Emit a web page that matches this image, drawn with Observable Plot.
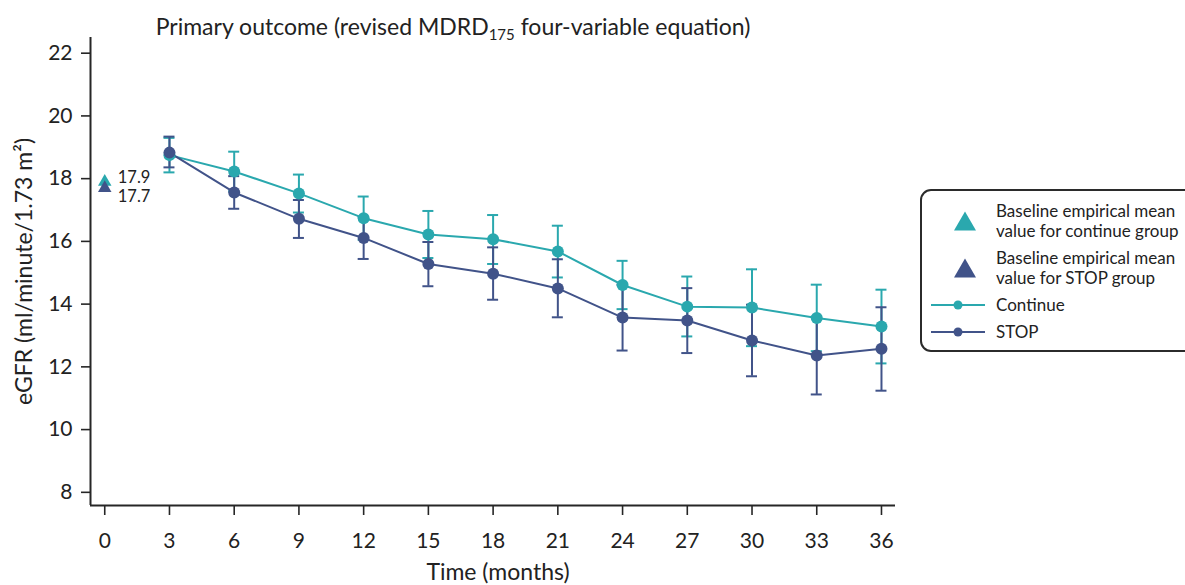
<!DOCTYPE html>
<html>
<head>
<meta charset="utf-8">
<script src="https://cdn.jsdelivr.net/npm/d3@7"></script>
<script src="https://cdn.jsdelivr.net/npm/@observablehq/plot@0.6"></script>
<style>
  html, body { margin: 0; padding: 0; background: #fff; overflow: hidden; }
  #wrap { position: relative; width: 1185px; height: 585px; font-family: Lato, "Open Sans", sans-serif; color: #222; }
  #title { position: absolute; left: 0; top: 13px; width: 906px; text-align: center; font-size: 23px; line-height: 26px; white-space: nowrap; }
  #title sub { font-size: 15px; vertical-align: -5px; line-height: 0; }
  #chart { position: absolute; left: 0; top: 0; }
  #legend { position: absolute; left: 920px; top: 189px; width: 300px; height: 159px; border: 2px solid #2b2b2b; border-radius: 11px; font-size: 17px; }
  .item { position: absolute; left: 0; width: 100%; }
  .item svg { position: absolute; left: 8px; }
  .item .lbl { position: absolute; left: 74px; line-height: 20px; white-space: nowrap; }
</style>
</head>
<body>
<div id="wrap">
  <div id="chart"></div>
  <div id="title">Primary outcome (revised MDRD<sub>175</sub> four-variable equation)</div>
  <div id="legend"></div>
</div>
<script>
// Follow-up visits (months) and eGFR summaries for each arm
const months = [3, 6, 9, 12, 15, 18, 21, 24, 27, 30, 33, 36];

const continueMean  = [18.75, 18.23, 17.53, 16.74, 16.22, 16.07, 15.68, 14.61, 13.92, 13.89, 13.56, 13.29];
const continueLower = [18.20, 17.60, 16.92, 16.05, 15.47, 15.28, 14.85, 13.84, 12.97, 12.66, 12.50, 12.11];
const continueUpper = [19.30, 18.86, 18.13, 17.43, 16.97, 16.84, 16.50, 15.38, 14.88, 15.11, 14.62, 14.46];

const stopMean  = [18.83, 17.56, 16.72, 16.11, 15.28, 14.97, 14.50, 13.57, 13.48, 12.84, 12.36, 12.58];
const stopLower = [18.36, 17.04, 16.11, 15.44, 14.57, 14.14, 13.58, 12.52, 12.44, 11.70, 11.12, 11.24];
const stopUpper = [19.34, 18.08, 17.32, 16.78, 15.98, 15.81, 15.43, 14.62, 14.51, 13.98, 13.60, 13.90];

// Baseline empirical means (month 0)
const baselineMonth = 0;
const baselineContinue = 17.9;
const baselineStop = 17.7;

const xTicks = [0, 3, 6, 9, 12, 15, 18, 21, 24, 27, 30, 33, 36];
const yTicks = [8, 10, 12, 14, 16, 18, 20, 22];

const groups = ["Continue", "STOP"];
const teal = "#2aa8ae";
const navy = "#415389";
const axisColor = "#262626";

const xDomain = [-0.66, 36.65];
const yDomain = [7.58, 22.5];

const rowsFor = (mean, lo, hi, group) =>
  months.map((m, i) => ({month: m, mean: mean[i], lo: lo[i], hi: hi[i], group}));

const contRows = rowsFor(continueMean, continueLower, continueUpper, groups[0]);
const stopRows = rowsFor(stopMean, stopLower, stopUpper, groups[1]);

const baseCont = [{month: baselineMonth, value: baselineContinue}];
const baseStop = [{month: baselineMonth, value: baselineStop}];

// Error bars with small caps, drawn under the lines and dots
function errorBars(rows, color) {
  const cap = {x1: "month", x2: "month", insetLeft: -5.5, insetRight: -5.5, stroke: color, strokeWidth: 2};
  return [
    Plot.ruleX(rows, {x: "month", y1: "lo", y2: "hi", stroke: color, strokeWidth: 2}),
    Plot.ruleY(rows, {...cap, y: "lo"}),
    Plot.ruleY(rows, {...cap, y: "hi"})
  ];
}

// Baseline triangle with its value printed to the right
function baselineMarks(rows, color, dy) {
  return [
    Plot.dot(rows, {x: "month", y: "value", symbol: "triangle", r: 5, fill: color}),
    Plot.text(rows, {x: "month", y: "value", text: d => d.value.toFixed(1), dx: 13, dy, textAnchor: "start", fontSize: 16.5, fill: "#222"})
  ];
}

const chart = Plot.plot({
  width: 910,
  height: 585,
  marginLeft: 90,
  marginRight: 15,
  marginTop: 37,
  marginBottom: 80,
  style: {fontFamily: "Lato, 'Open Sans', sans-serif", fontSize: "21px", color: "#222", background: "transparent"},
  x: {domain: xDomain},
  y: {domain: yDomain},
  marks: [
    Plot.axisY({ticks: yTicks, tickSize: 9, tickPadding: 9, label: null, stroke: axisColor, strokeWidth: 1.6}),
    Plot.axisX({ticks: xTicks, tickSize: 10, tickPadding: 18, label: null, stroke: axisColor, strokeWidth: 1.6}),
    Plot.ruleX([xDomain[0]], {stroke: axisColor, strokeWidth: 2}),
    Plot.ruleY([yDomain[0]], {stroke: axisColor, strokeWidth: 2}),
    Plot.text(["eGFR (ml/minute/1.73 m²)"], {frameAnchor: "left", textAnchor: "middle", dx: -66, rotate: -90, fontSize: 23, fill: "#222"}),
    Plot.text(["Time (months)"], {frameAnchor: "bottom", lineAnchor: "middle", dx: 5, dy: 67, fontSize: 23, fill: "#222"}),
    ...errorBars(contRows, teal),
    ...errorBars(stopRows, navy),
    Plot.line(contRows, {x: "month", y: "mean", stroke: teal, strokeWidth: 2}),
    Plot.line(stopRows, {x: "month", y: "mean", stroke: navy, strokeWidth: 2}),
    Plot.dot(contRows, {x: "month", y: "mean", r: 6, fill: teal}),
    Plot.dot(stopRows, {x: "month", y: "mean", r: 6, fill: navy}),
    ...baselineMarks(baseCont, teal, -4),
    ...baselineMarks(baseStop, navy, 9)
  ]
});
document.getElementById("chart").append(chart);

// Legend
const legendItems = [
  {kind: "triangle", color: teal, lines: ["Baseline empirical mean", "value for continue group"], top: 10},
  {kind: "triangle", color: navy, lines: ["Baseline empirical mean", "value for STOP group"], top: 57},
  {kind: "line", color: teal, lines: [groups[0]], top: 104},
  {kind: "line", color: navy, lines: [groups[1]], top: 131}
];
const legend = document.getElementById("legend");
for (const it of legendItems) {
  const div = document.createElement("div");
  div.className = "item";
  div.style.top = it.top + "px";
  const h = it.lines.length * 20;
  let sw;
  if (it.kind === "triangle") {
    const s = 22, th = 19;
    sw = `<svg width="60" height="${h}" style="top:0"><path d="M${35 - s / 2},${h / 2 + th / 2} L35,${h / 2 - th / 2} L${35 + s / 2},${h / 2 + th / 2} Z" fill="${it.color}"/></svg>`;
  } else {
    sw = `<svg width="60" height="${h}" style="top:0"><line x1="1" x2="55" y1="${h / 2}" y2="${h / 2}" stroke="${it.color}" stroke-width="2"/><circle cx="28" cy="${h / 2}" r="4.5" fill="${it.color}"/></svg>`;
  }
  div.innerHTML = sw + `<div class="lbl" style="top:0">${it.lines.join("<br>")}</div>`;
  legend.append(div);
}
</script>
</body>
</html>
